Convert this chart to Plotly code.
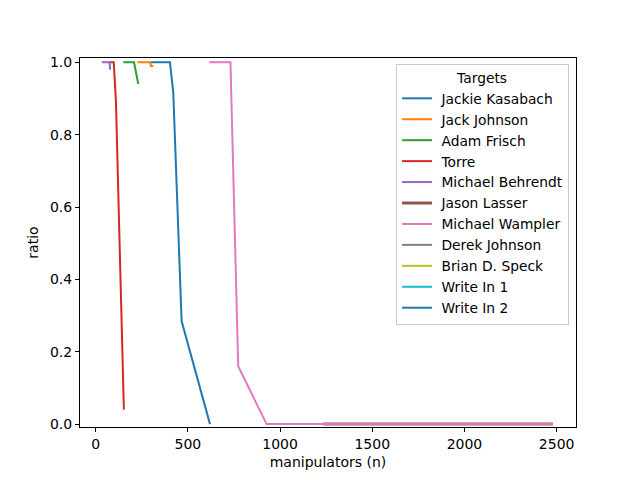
import plotly.graph_objects as go

# Series (x = manipulators, y = ratio)
names = [" Jackie Kasabach", " Jack Johnson", " Adam Frisch", " Torre",
         " Michael Behrendt", " Jason Lasser", " Michael Wampler",
         " Derek Johnson", " Brian D. Speck", " Write In 1", " Write In 2"]

jackie_x = [300, 403, 421, 466, 620]
jackie_y = [1.0, 1.0, 0.915, 0.285, 0.0]
jack_x = [226, 294, 300, 312]
jack_y = [1.0, 1.0, 0.99, 0.99]
adam_x = [150, 208, 231]
adam_y = [1.0, 1.0, 0.94]
torre_x = [78, 98, 110, 153]
torre_y = [1.0, 1.0, 0.89, 0.04]
behrendt_x = [33, 76, 78]
behrendt_y = [1.0, 1.0, 0.98]
lasser_x = [1234, 2480]
lasser_y = [0.0, 0.0]
wampler_x = [616, 731, 773, 927, 1234, 2480]
wampler_y = [1.0, 1.0, 0.16, 0.0, 0.0, 0.0]
# these targets have no visible points in the chart
derek_x, derek_y = [None], [None]
speck_x, speck_y = [None], [None]
writein1_x, writein1_y = [None], [None]
writein2_x, writein2_y = [None], [None]

xs = [jackie_x, jack_x, adam_x, torre_x, behrendt_x, lasser_x, wampler_x,
      derek_x, speck_x, writein1_x, writein2_x]
ys = [jackie_y, jack_y, adam_y, torre_y, behrendt_y, lasser_y, wampler_y,
      derek_y, speck_y, writein1_y, writein2_y]

# matplotlib tab10 cycle
colors = ["#1f77b4", "#ff7f0e", "#2ca02c", "#d62728", "#9467bd", "#8c564b",
          "#e377c2", "#7f7f7f", "#bcbd22", "#17becf", "#1f77b4"]

fig = go.Figure()
for name, x, y, c in zip(names, xs, ys, colors):
    fig.add_trace(go.Scatter(
        x=x, y=y, mode="lines", name=name,
        line=dict(color=c, width=3 if name == " Jason Lasser" else 2)
    ))

axis_common = dict(
    showline=True, linecolor="black", linewidth=1, mirror=True,
    ticks="outside", ticklen=4, tickcolor="black",
    showgrid=False, zeroline=False, automargin=False,
    tickfont=dict(size=14, color="black"),
)

# page body adds an 8px offset, so the figure is 8px smaller than the window
fig.update_layout(
    width=632, height=472,
    margin=dict(l=72, r=64, t=50, b=53),
    paper_bgcolor="white", plot_bgcolor="white",
    font=dict(family="DejaVu Sans", size=14, color="black"),
    xaxis=dict(range=[-85, 2605], tickvals=[0, 500, 1000, 1500, 2000, 2500],
               title=dict(text="manipulators (n)", font=dict(size=14), standoff=6),
               **axis_common),
    yaxis=dict(range=[-0.008, 1.012], tickvals=[0, 0.2, 0.4, 0.6, 0.8, 1.0],
               tickformat=".1f",
               title=dict(text="ratio", font=dict(size=14), standoff=8),
               **axis_common),
    legend=dict(
        title=dict(text="Targets", side="top center", font=dict(size=13.8)),
        x=0.986, y=0.984, xanchor="right", yanchor="top",
        bordercolor="#cccccc", borderwidth=1, bgcolor="white",
        font=dict(size=13.8),
    ),
)

fig.write_html("out.html")
